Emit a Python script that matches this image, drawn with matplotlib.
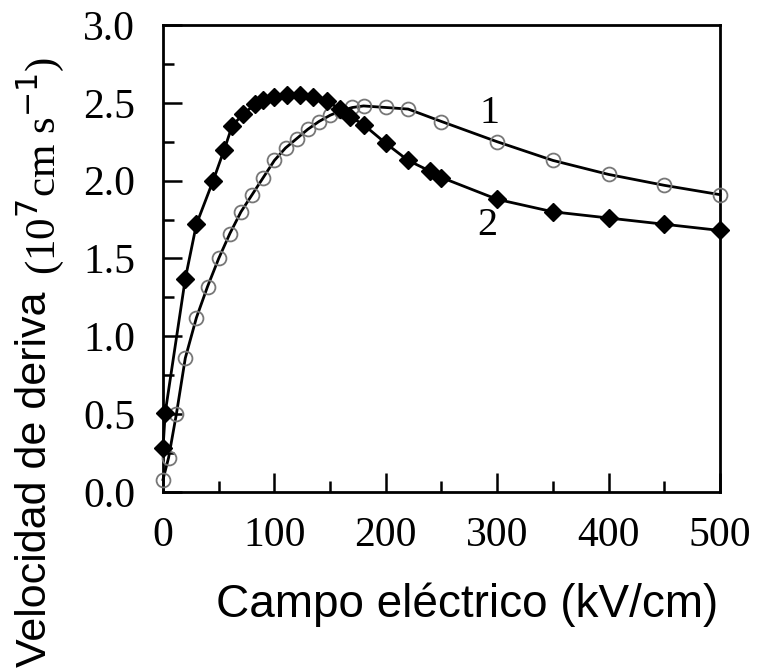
import numpy as np
import matplotlib.pyplot as plt
from matplotlib.ticker import MultipleLocator

# curve 1 (open circles)
campo1 = [0, 5, 12, 20, 30, 40, 50, 60, 70, 80, 90, 100, 110, 120, 130, 140,
          150, 160, 170, 180, 200, 220, 250, 300, 350, 400, 450, 500]
vel1 = [0.08, 0.22, 0.50, 0.86, 1.12, 1.32, 1.50, 1.66, 1.80, 1.91, 2.02, 2.13,
        2.21, 2.27, 2.33, 2.38, 2.42, 2.45, 2.47, 2.48, 2.47, 2.46, 2.38, 2.25,
        2.13, 2.04, 1.97, 1.91]

# curve 2 (filled diamonds)
campo2 = [0, 2, 20, 30, 45, 55, 62, 72, 83, 90, 100, 111, 123, 135, 147, 159,
          168, 180, 200, 220, 240, 250, 300, 350, 400, 450, 500]
vel2 = [0.28, 0.51, 1.37, 1.72, 2.00, 2.20, 2.35, 2.43, 2.49, 2.52, 2.54, 2.55,
        2.55, 2.54, 2.51, 2.46, 2.41, 2.36, 2.24, 2.13, 2.06, 2.02, 1.88, 1.80,
        1.76, 1.72, 1.68]

fig = plt.figure(figsize=(7.61, 6.70), dpi=100)
ax = fig.add_axes([0.2142, 0.2657, 0.7319, 0.6970])

ax.plot(campo1, vel1, '-', color='black', lw=2, marker='o', ms=10,
        mfc='none', mec='#777777', mew=1.3, clip_on=False, zorder=3)
ax.plot(campo2, vel2, '-', color='black', lw=2, marker='D', ms=9,
        mfc='black', mec='black', clip_on=False, zorder=4)

ax.text(293, 2.43, '1', family='Liberation Serif', fontsize=29, ha='center', va='center')
ax.text(291, 1.71, '2', family='Liberation Serif', fontsize=29, ha='center', va='center')

ax.set_xlim(0, 500)
ax.set_ylim(0, 3.0)
ax.xaxis.set_major_locator(MultipleLocator(100))
ax.xaxis.set_minor_locator(MultipleLocator(50))
ax.yaxis.set_major_locator(MultipleLocator(0.5))
ax.yaxis.set_minor_locator(MultipleLocator(0.25))
ax.yaxis.set_major_formatter(plt.FuncFormatter(lambda v, p: '%.1f' % v))

ax.tick_params(which='major', direction='in', length=14, width=1.8, pad=18)
ax.tick_params(which='minor', direction='in', length=8, width=1.8)
ax.tick_params(axis='y', pad=20)
for lab in ax.get_xticklabels() + ax.get_yticklabels():
    lab.set_family('Liberation Serif')
    lab.set_fontsize(30)
for s in ax.spines.values():
    s.set_linewidth(2)

fig.text(0.614, 0.097, 'Campo eléctrico (kV/cm)', family='Liberation Sans', fontsize=33,
         ha='center', va='center')

fig.text(0.046, 0.005, 'Velocidad de deriva', family='Liberation Sans', fontsize=31,
         rotation=90, ha='center', va='bottom')
fig.text(0.054, 0.59, r'(10$^{7}$cm s$^{-1}$)', family='Liberation Serif', fontsize=31,
         rotation=90, ha='center', va='bottom')

plt.savefig('out.png', dpi=100)
